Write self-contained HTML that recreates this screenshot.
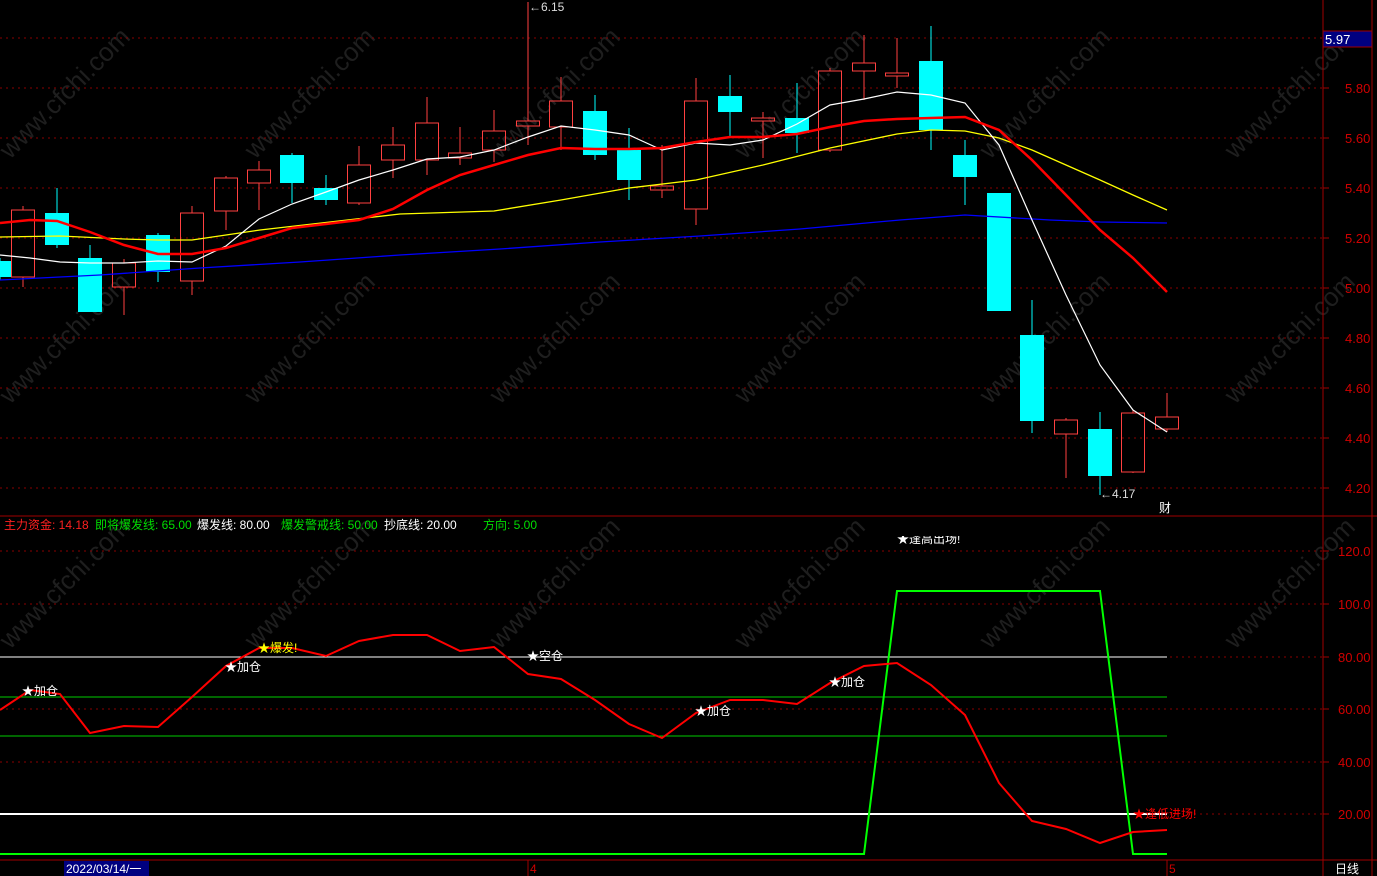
<!DOCTYPE html>
<html><head><meta charset="utf-8"><style>
html,body{margin:0;padding:0;background:#000;}
svg{display:block;font-family:"Liberation Sans","Noto Sans CJK SC",sans-serif;}
</style></head><body>
<svg id="s" width="1377" height="876" viewBox="0 0 1377 876" xmlns="http://www.w3.org/2000/svg">
<rect width="1377" height="876" fill="#000"/>
<g id="wm" fill="#1e1e1e" font-size="26"></g>
<g id="grid"></g>
<g id="cand"></g>
<g id="lines" fill="none"></g>
<g id="txt"></g>
</svg>
<script>
const NS="http://www.w3.org/2000/svg";
function el(p,t,a,txt){const e=document.createElementNS(NS,t);for(const k in a)e.setAttribute(k,a[k]);if(txt!==undefined)e.textContent=txt;document.getElementById(p).appendChild(e);return e;}
// watermarks
for(let i=0;i<6;i++)for(let j=0;j<3;j++){const x=10+i*245,y=160+j*245;el('wm','text',{x:x,y:y,transform:`rotate(-45 ${x} ${y})`},'www.cfchi.com');}
// grid top
for(let k=0;k<10;k++){const y=38+k*50;el('grid','line',{x1:0,x2:1322,y1:y,y2:y,stroke:'#8a0000','stroke-dasharray':'2,4'});}
[551,604,657,709,762,814].forEach(y=>el('grid','line',{x1:0,x2:1322,y1:y,y2:y,stroke:'#8a0000','stroke-dasharray':'2,4'}));
// frame
el('grid','line',{x1:1323,x2:1323,y1:0,y2:876,stroke:'#a00000'});
el('grid','line',{x1:1372,x2:1372,y1:0,y2:876,stroke:'#a00000'});
el('grid','line',{x1:0,x2:1377,y1:516,y2:516,stroke:'#a00000'});
el('grid','line',{x1:0,x2:1377,y1:860,y2:860,stroke:'#a00000'});
el('grid','line',{x1:528,x2:528,y1:860,y2:876,stroke:'#a00000'});
el('grid','line',{x1:1167,x2:1167,y1:860,y2:876,stroke:'#a00000'});
// axis labels
const pl=['6.00','5.80','5.60','5.40','5.20','5.00','4.80','4.60','4.40','4.20'];
pl.forEach((t,k)=>{const y=38+k*50;if(k>0){el('txt','text',{x:1345,y:y+5,fill:'#d00000','font-size':13},t);}el('grid','line',{x1:1323,x2:1329,y1:y,y2:y,stroke:'#a00000'});});
['120.0','100.0','80.00','60.00','40.00','20.00'].forEach((t,k)=>{const y=[551,604,657,709,762,814][k];el('txt','text',{x:1338,y:y+5,fill:'#d00000','font-size':13},t);el('grid','line',{x1:1323,x2:1329,y1:y,y2:y,stroke:'#a00000'});});
el('txt','rect',{x:1323,y:31,width:49,height:16,fill:'#000080',stroke:'#a00000'});
el('txt','text',{x:1325,y:44,fill:'#fff','font-size':13},'5.97');
// candles [x,top,bot,hi,lo,type]
const C=[[0,261,277,258,280,'c'],[23,210,277,206,287,'r'],[57,213,245,188,248,'c'],[90,258,312,245,312,'c'],[124,263,287,259,315,'r'],[158,235,272,233,282,'c'],[192,213,281,206,295,'r'],[226,178,211,176,230,'r'],[259,170,183,161,210,'r'],[292,155,183,153,203,'c'],[326,188,200,175,205,'c'],[359,165,203,146,205,'r'],[393,145,160,127,178,'r'],[427,123,160,97,175,'r'],[460,153,158,127,165,'r'],[494,131,150,110,162,'r'],[528,121,126,2,145,'r'],[561,101,127,77,150,'r'],[595,111,155,95,160,'c'],[629,150,180,128,200,'c'],[662,186,190,145,198,'r'],[696,101,209,78,225,'r'],[730,96,112,75,138,'c'],[763,118,121,112,158,'r'],[797,118,133,83,153,'c'],[830,71,150,68,152,'r'],[864,63,71,35,100,'r'],[897,73,76,38,88,'r'],[931,61,130,26,150,'c'],[965,155,177,140,205,'c'],[999,193,311,193,311,'c'],[1032,335,421,300,433,'c'],[1066,420,434,418,478,'r'],[1100,429,476,412,495,'c'],[1133,413,472,410,473,'r'],[1167,417,429,393,432,'r']];
C.forEach(([x,t,b,h,l,ty])=>{const col=ty=='c'?'#00ffff':'#ff4040';
 if(ty=='c'){el('cand','line',{x1:x,x2:x,y1:h,y2:l,stroke:col});el('cand','rect',{x:x-12,y:t,width:24,height:Math.max(b-t,1),fill:col});}
 else{el('cand','line',{x1:x,x2:x,y1:h,y2:t,stroke:col});el('cand','line',{x1:x,x2:x,y1:b,y2:l,stroke:col});el('cand','rect',{x:x-11.5,y:t,width:23,height:Math.max(b-t,1),fill:'none',stroke:col});}});
el('txt','text',{x:529,y:11,fill:'#ddd','font-size':12},'←6.15');
el('txt','text',{x:1100,y:498,fill:'#ddd','font-size':12},'←4.17');
el('txt','text',{x:1159,y:512,fill:'#fff','font-size':12},'财');
function pl2(pts,col,w){el('lines','polyline',{points:pts.map(p=>p.join(',')).join(' '),stroke:col,'stroke-width':w});}
pl2([[0,280],[100,275],[200,268],[300,262],[400,255],[500,249],[600,242],[700,236],[800,229],[900,220],[965,215],[1050,220],[1100,222],[1167,223]],'#0000ff',1.3);
pl2([[0,237],[60,236],[124,239],[158,240],[192,240],[226,235],[260,230],[330,222],[400,214],[494,211],[561,200],[629,188],[696,180],[763,165],[830,148],[897,134],[931,130],[965,131],[999,138],[1032,150],[1066,165],[1100,180],[1133,195],[1167,210]],'#ffff00',1.3);
pl2([[0,255],[30,258],[60,262],[90,263],[124,263],[158,261],[192,262],[226,246],[259,219],[292,204],[326,192],[359,180],[393,170],[427,159],[460,157],[494,150],[528,137],[561,126],[595,130],[629,135],[662,150],[696,143],[730,145],[763,140],[797,124],[830,105],[864,99],[897,92],[931,95],[965,103],[999,145],[1032,220],[1066,295],[1100,365],[1133,410],[1167,432]],'#ffffff',1.2);
pl2([[0,223],[30,220],[57,221],[90,232],[124,245],[158,254],[192,254],[226,248],[259,238],[292,228],[326,224],[359,220],[393,209],[427,190],[460,175],[494,165],[528,155],[561,148],[595,149],[629,149],[662,148],[696,142],[730,137],[763,137],[797,134],[830,127],[864,121],[897,119],[931,118],[965,117],[999,130],[1032,160],[1066,195],[1100,230],[1133,258],[1167,292]],'#ff0000',2.5);
// lower panel
el('lines','line',{x1:0,x2:1167,y1:657,y2:657,stroke:'#fff'});
el('lines','line',{x1:0,x2:1167,y1:697,y2:697,stroke:'#00cc00'});
el('lines','line',{x1:0,x2:1167,y1:736,y2:736,stroke:'#00cc00'});
el('lines','line',{x1:0,x2:1167,y1:814,y2:814,stroke:'#fff','stroke-width':2});
pl2([[0,854],[864,854],[897,591],[1100,591],[1133,854],[1167,854]],'#00ff00',2);
pl2([[0,710],[30,690],[60,694],[90,733],[124,726],[158,727],[192,697],[226,666],[259,648],[292,648],[326,656],[359,641],[393,635],[427,635],[460,651],[494,647],[528,674],[561,679],[595,700],[629,724],[662,738],[696,713],[730,700],[763,700],[797,704],[830,683],[864,666],[897,663],[931,685],[965,715],[999,783],[1032,821],[1066,829],[1100,843],[1133,832],[1167,830]],'#ff0000',2);
[[22,695,'★加仓','#fff'],[225,671,'★加仓','#fff'],[258,652,'★爆发!','#ffff00'],[527,660,'★空仓','#fff'],[695,715,'★加仓','#fff'],[829,686,'★加仓','#fff'],[1133,818,'★逢低进场!','#ff0000']].forEach(([x,y,t,c])=>el('txt','text',{x:x,y:y,fill:c,'font-size':12},t));
el('txt','text',{x:897,y:543,fill:'#fff','font-size':12},'★逢高出场!');
el('txt','rect',{x:880,y:517,width:100,height:19,fill:'#000'});
// legend
const lg=[[4,'主力资金: 14.18','#ff2020'],[95,'即将爆发线: 65.00','#00dd00'],[197,'爆发线: 80.00','#fff'],[281,'爆发警戒线: 50.00','#00dd00'],[384,'抄底线: 20.00','#fff'],[483,'方向: 5.00','#00dd00']];
lg.forEach(([x,t,c])=>el('txt','text',{x:x,y:529,fill:c,'font-size':12},t));
// bottom
el('txt','rect',{x:64,y:861,width:85,height:15,fill:'#000080'});
el('txt','text',{x:66,y:873,fill:'#fff','font-size':12},'2022/03/14/一');
el('txt','text',{x:530,y:873,fill:'#d00000','font-size':12},'4');
el('txt','text',{x:1169,y:873,fill:'#d00000','font-size':12},'5');
el('txt','text',{x:1335,y:873,fill:'#fff','font-size':12},'日线');
</script>
</body></html>
